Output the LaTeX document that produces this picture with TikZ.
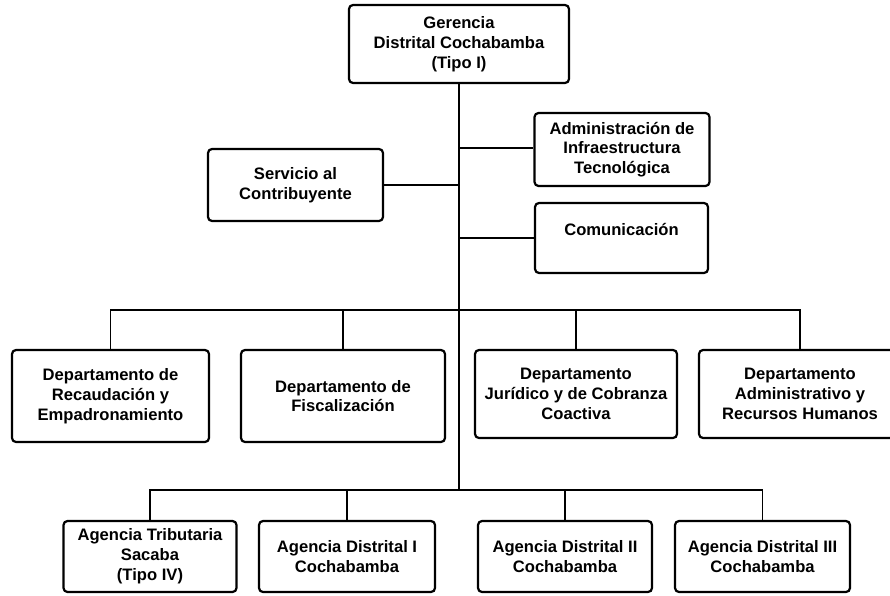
\documentclass[tikz,border=0pt]{standalone}
\usepackage{fontspec}
\setmainfont{Liberation Sans}
\begin{document}
\begin{tikzpicture}[x=1pt,y=-1pt,
  unit/.style={draw=black, line width=2.2pt, rounded corners=4pt, fill=white,
    inner sep=0pt, align=center, font=\fontsize{16.6}{19.8}\selectfont\bfseries},
  caption/.style={inner sep=0pt, align=center, font=\fontsize{16.6}{19.8}\selectfont\bfseries},
  link/.style={draw=black, line width=1.6pt}]
\useasboundingbox (0,0) rectangle (890,596);

% head office
\node[unit, minimum width=220, minimum height=78] (ger) at (459,44)
  {Gerencia\\Distrital Cochabamba\\(Tipo I)};

% staff units beside the main line
\node[unit, minimum width=175, minimum height=73] (adm) at (622,149.5)
  {Administración de\\Infraestructura\\Tecnológica};
\node[unit, minimum width=175, minimum height=72] (ser) at (295.5,185)
  {Servicio al\\Contribuyente};
\node[unit, minimum width=173, minimum height=70] (com) at (621.5,238) {};
\node[caption] (comtxt) at (621.5,229) {Comunicación};

% departments
\node[unit, minimum width=197, minimum height=92] (d1) at (110.5,396)
  {Departamento de\\Recaudación y\\Empadronamiento};
\node[unit, minimum width=204, minimum height=92] (d2) at (343,396)
  {Departamento de\\Fiscalización};
\node[unit, minimum width=202, minimum height=88] (d3) at (576,394)
  {Departamento\\Jurídico y de Cobranza\\Coactiva};
\node[unit, minimum width=202, minimum height=88] (d4) at (800,394)
  {Departamento\\Administrativo y\\Recursos Humanos};

% agencies
\node[unit, minimum width=173, minimum height=71] (a1) at (150,556.5)
  {Agencia Tributaria\\Sacaba\\(Tipo IV)};
\node[unit, minimum width=176, minimum height=71] (a2) at (347,556.5)
  {Agencia Distrital I\\Cochabamba};
\node[unit, minimum width=174, minimum height=71] (a3) at (565,556.5)
  {Agencia Distrital II\\Cochabamba};
\node[unit, minimum width=175, minimum height=71] (a4) at (762.5,556.5)
  {Agencia Distrital III\\Cochabamba};

% junction points on the main line
\coordinate (trunkA) at (459,148);
\coordinate (trunkS) at (459,185);
\coordinate (trunkC) at (459,238);
\coordinate (busD) at (459,310);
\coordinate (busA) at (459,490);

% main line
\draw[link] (ger.south) -- (busA);

% staff connectors
\draw[link] (trunkA) -- (adm.west |- trunkA);
\draw[link] (trunkC) -- (com.west);
\draw[link] (ser.east) -- (trunkS);

% department bus
\draw[link] (d1.north) |- (busD) -| (d4.north);
\draw[link] (d2.north) -- (d2.north |- busD);
\draw[link] (d3.north) -- (d3.north |- busD);

% agency bus
\draw[link] (a1.north) |- (busA) -| (a4.north);
\draw[link] (a2.north) -- (a2.north |- busA);
\draw[link] (a3.north) -- (a3.north |- busA);
\end{tikzpicture}
\end{document}
